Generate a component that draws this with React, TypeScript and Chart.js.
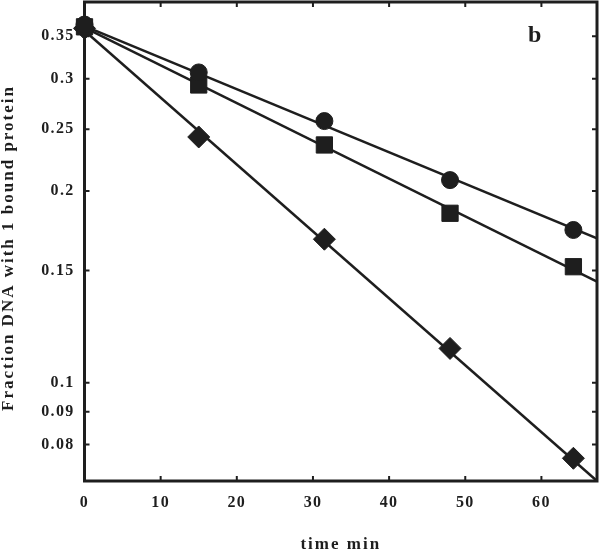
import React, { useEffect, useRef } from 'react';
import { Chart, registerables } from 'chart.js';

Chart.register(...registerables);

// ---- data ----
const xTickValues = [0, 10, 20, 30, 40, 50, 60];
const yTickValues = [0.08, 0.09, 0.1, 0.15, 0.2, 0.25, 0.3, 0.35];
const yTickLabels = ['0.08', '0.09', '0.1', '0.15', '0.2', '0.25', '0.3', '0.35'];

const times = [0, 15, 31.5, 48, 64.2];
const circleValues = [0.365, 0.307, 0.2575, 0.208, 0.1737];
const squareValues = [0.362, 0.2934, 0.2362, 0.1845, 0.1521];
const diamondValues = [0.36, 0.2431, 0.168, 0.1132, 0.0761];

const fitTimes = [0, 67.3];
const circleFit = [0.363, 0.1685];
const squareFit = [0.361, 0.1441];
const diamondFit = [0.357, 0.0701];

const xRange = [0, 67.3];
const yRange = [0.0701, 0.396];

const xTitle = 'time min';
const yTitle = 'Fraction DNA with 1 bound protein';
const panelLabel = 'b';
const panelPos = [59.1, 0.35];

const INK = '#1e1e1e';
const FAMILY = '"Liberation Serif", "Times New Roman", serif';

const toPoints = (xs: number[], ys: number[]) => xs.map((x, i) => ({ x, y: ys[i] }));

const zeroPad = (s: any) => {
  s.paddingTop = 0;
  s.paddingBottom = 0;
  s.paddingLeft = 0;
  s.paddingRight = 0;
};

const decorPlugin = {
  id: 'decor',
  beforeDraw(chart: any) {
    (chart.ctx as any).letterSpacing = '2px';
  },
  beforeDatasetsDraw(chart: any) {
    (chart.ctx as any).letterSpacing = '1.3px';
  },
  afterDraw(chart: any) {
    const { ctx, chartArea: a, scales } = chart;
    const xs = scales.x;
    const ys = scales.y;
    ctx.save();
    (ctx as any).letterSpacing = '0px';
    ctx.strokeStyle = INK;
    // inward ticks on all four sides
    ctx.lineWidth = 2;
    const L = 5;
    ctx.beginPath();
    xTickValues.forEach((v) => {
      const px = xs.getPixelForValue(v);
      ctx.moveTo(px, a.bottom);
      ctx.lineTo(px, a.bottom - L);
      ctx.moveTo(px, a.top);
      ctx.lineTo(px, a.top + L);
    });
    yTickValues.forEach((v) => {
      const py = ys.getPixelForValue(v);
      ctx.moveTo(a.left, py);
      ctx.lineTo(a.left + L, py);
      ctx.moveTo(a.right, py);
      ctx.lineTo(a.right - L, py);
    });
    ctx.stroke();
    // frame
    ctx.lineWidth = 3;
    ctx.strokeRect(a.left, a.top, a.right - a.left, a.bottom - a.top);

    // panel label
    ctx.fillStyle = INK;
    ctx.font = `bold 24px ${FAMILY}`;
    ctx.textAlign = 'center';
    ctx.textBaseline = 'middle';
    ctx.fillText(panelLabel, xs.getPixelForValue(panelPos[0]), ys.getPixelForValue(panelPos[1]));

    // y title
    (ctx as any).letterSpacing = '2px';
    ctx.font = `bold 17px ${FAMILY}`;
    ctx.translate(8.5, 248);
    ctx.rotate(-Math.PI / 2);
    ctx.fillText(yTitle, 0, 0);
    ctx.restore();
    (ctx as any).letterSpacing = '0px';
  },
};

export default function App() {
  const ref = useRef<HTMLCanvasElement | null>(null);

  useEffect(() => {
    document.body.style.margin = '0';
    const canvas = ref.current;
    if (!canvas) return;
    const tickFont = { family: FAMILY, size: 16, weight: 'bold' as const };
    const lineDs = (data: number[]) => ({
      data: toPoints(fitTimes, data),
      showLine: true,
      borderColor: INK,
      borderWidth: 2.5,
      pointRadius: 0,
      clip: 0,
      order: 2,
    });
    const markDs = (data: number[], style: string, radius: number) => ({
      data: toPoints(times, data),
      showLine: false,
      pointStyle: style,
      pointRadius: radius,
      backgroundColor: INK,
      borderColor: INK,
      borderWidth: 1,
      clip: false as const,
      order: 1,
    });
    const chart = new Chart(canvas, {
      type: 'scatter',
      data: {
        datasets: [
          lineDs(circleFit),
          lineDs(squareFit),
          lineDs(diamondFit),
          markDs(circleValues, 'circle', 8.5),
          markDs(squareValues, 'rect', 11.5),
          markDs(diamondValues, 'rectRot', 11),
        ] as any,
      },
      options: {
        responsive: false,
        animation: false,
        devicePixelRatio: 1,
        layout: { autoPadding: false, padding: { top: 2, right: 3, left: 0, bottom: 0 } },
        plugins: { legend: { display: false }, tooltip: { enabled: false } },
        scales: {
          x: {
            type: 'linear',
            min: xRange[0],
            max: xRange[1],
            afterBuildTicks: (s: any) => {
              s.ticks = xTickValues.map((v) => ({ value: v }));
            },
            afterFit: (s: any) => {
              s.height = 72;
              zeroPad(s);
            },
            grid: { display: false, drawTicks: false },
            border: { display: false },
            ticks: {
              z: 1,
              padding: 12,
              font: tickFont,
              color: INK,
              maxRotation: 0,
              autoSkip: false,
              callback: (v: any) => String(v),
            },
            title: {
              display: true,
              text: xTitle,
              color: INK,
              font: { family: FAMILY, size: 17, weight: 'bold', lineHeight: 1 },
              padding: { top: 0, bottom: 0 },
            },
          },
          y: {
            type: 'logarithmic',
            min: yRange[0],
            max: yRange[1],
            afterBuildTicks: (s: any) => {
              s.ticks = yTickValues.map((v) => ({ value: v }));
            },
            afterFit: (s: any) => {
              s.width = 84.5;
              zeroPad(s);
            },
            grid: { display: false, drawTicks: false },
            border: { display: false },
            ticks: {
              z: 1,
              padding: 10,
              font: tickFont,
              color: INK,
              autoSkip: false,
              callback: (v: any) => {
                const i = yTickValues.indexOf(Number(v));
                return i >= 0 ? yTickLabels[i] : '';
              },
            },
          },
        },
      } as any,
      plugins: [decorPlugin],
    });
    return () => chart.destroy();
  }, []);

  return (
    <div style={{ position: 'absolute', left: 0, top: 0, width: 600, height: 553 }}>
      <canvas ref={ref} width={600} height={553} style={{ display: 'block' }} />
    </div>
  );
}
